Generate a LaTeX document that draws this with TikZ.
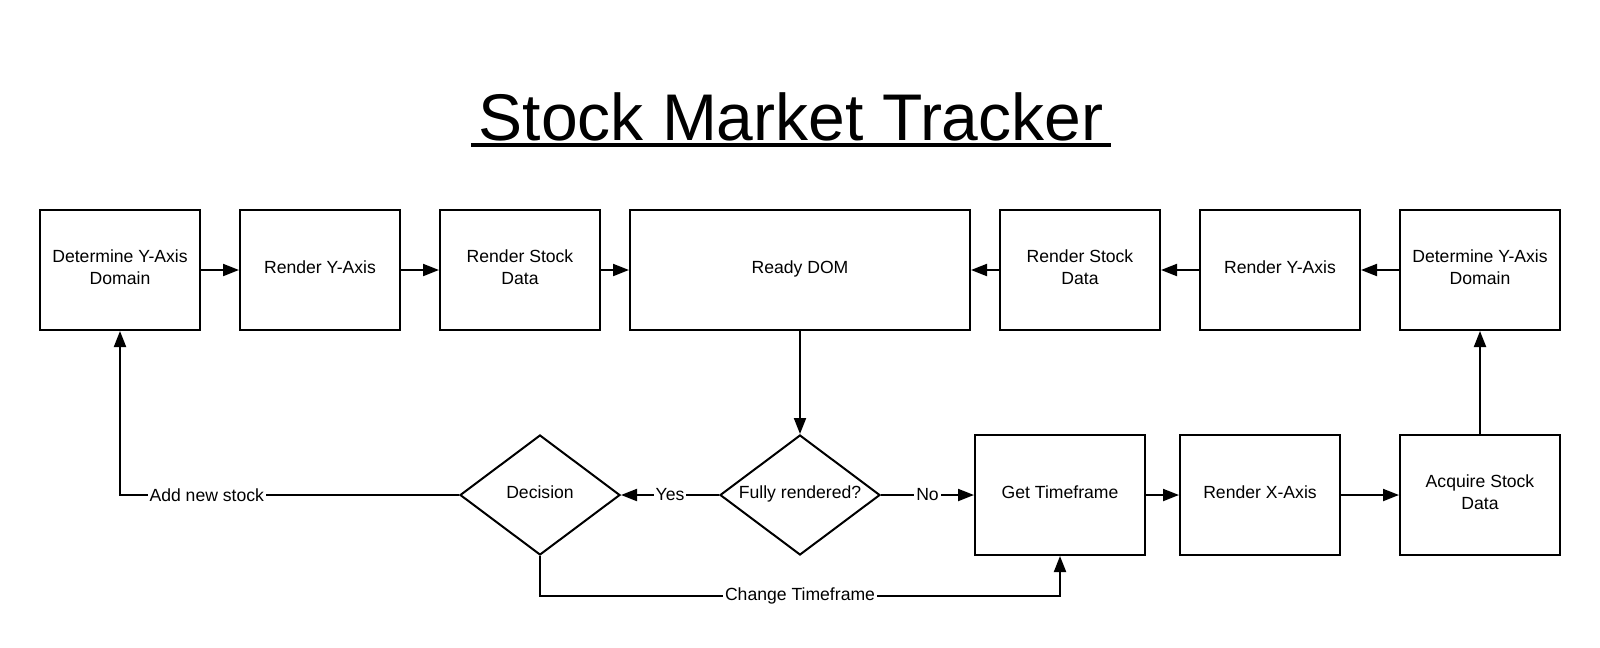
\documentclass[tikz,border=0pt]{standalone}
\usepackage{fontspec}
\setmainfont{Liberation Sans}
\usetikzlibrary{arrows.meta,shapes.geometric}

\begin{document}
\begin{tikzpicture}[x=0.75pt, y=-0.75pt, line width=1.5pt,
        every node/.style={font=\fontsize{13.2}{16.3}\selectfont},
        stepbox/.style={draw, rectangle, minimum width=120pt, minimum height=90pt, inner sep=0pt, text depth=4pt, align=center},
        decision/.style={draw, diamond, aspect=1.33, minimum width=120pt, minimum height=90pt, inner sep=0pt, text depth=4pt},
        flow/.style={-{Triangle[length=12pt, width=9pt]}},
        flowlabel/.style={fill=white, inner sep=1.5pt}]
    \useasboundingbox (0,0) rectangle (1600,647);

    \node [font=\fontsize{49.5}{55}\selectfont, inner sep=0pt, anchor=base] (title) at (791,140) {Stock Market Tracker};
    \draw [line width=3pt] ([xshift=-5pt, yshift=-3.75pt]title.base west) -- ([xshift=5pt, yshift=-3.75pt]title.base east);

    \node [stepbox] (domainL) at (120,270) {Determine Y-Axis\\Domain};
    \node [stepbox] (yaxisL) at (320,270) {Render Y-Axis};
    \node [stepbox] (dataL) at (520,270) {Render Stock\\Data};
    \node [stepbox, minimum width=255pt] (dom) at (800,270) {Ready DOM};
    \node [stepbox] (dataR) at (1080,270) {Render Stock\\Data};
    \node [stepbox] (yaxisR) at (1280,270) {Render Y-Axis};
    \node [stepbox] (domainR) at (1480,270) {Determine Y-Axis\\Domain};

    \node [decision] (choice) at (540,495) {Decision};
    \node [decision] (rendered) at (800,495) {Fully rendered?};
    \node [stepbox, minimum width=127.5pt] (timeframe) at (1060,495) {Get Timeframe};
    \node [stepbox] (xaxis) at (1260,495) {Render X-Axis};
    \node [stepbox] (acquire) at (1480,495) {Acquire Stock\\Data};

    \draw [flow] (domainL) -- (yaxisL);
    \draw [flow] (yaxisL) -- (dataL);
    \draw [flow] (dataL) -- (dom);
    \draw [flow] (dataR) -- (dom);
    \draw [flow] (yaxisR) -- (dataR);
    \draw [flow] (domainR) -- (yaxisR);
    \draw [flow] (dom) -- (rendered);
    \draw [flow] (rendered) -- node [flowlabel] {Yes} (choice);
    \draw [flow] (rendered) -- node [flowlabel] {No} (timeframe);
    \draw [flow] (timeframe) -- (xaxis);
    \draw [flow] (xaxis) -- (acquire);
    \draw [flow] (acquire) -- (domainR);
    \draw [flow] (choice.south) -- ++(0,40) -| node [flowlabel, pos=0.25] {Change Timeframe} (timeframe.south);
    \draw [flow] (choice.west) -| node [flowlabel, pos=0.372] {Add new stock} (domainL.south);
\end{tikzpicture}
\end{document}
